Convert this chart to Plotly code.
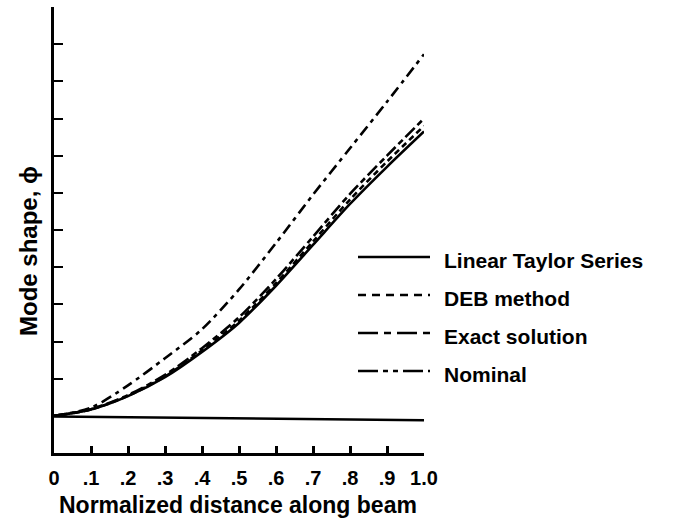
import plotly.graph_objects as go

# Normalized distance along the beam
x_pos = [0.0, 0.1, 0.2, 0.3, 0.4, 0.5, 0.6, 0.7, 0.8, 0.9, 1.0]

# Mode shape values for each method
linear_taylor = [0.0, 0.17, 0.53, 1.04, 1.72, 2.50, 3.50, 4.60, 5.70, 6.70, 7.65]
deb_method = [0.0, 0.17, 0.54, 1.06, 1.76, 2.56, 3.57, 4.69, 5.82, 6.84, 7.80]
exact_solution = [0.0, 0.18, 0.56, 1.10, 1.82, 2.65, 3.68, 4.82, 5.97, 7.00, 8.00]
nominal = [0.0, 0.22, 0.82, 1.55, 2.33, 3.40, 4.65, 5.95, 7.20, 8.45, 9.73]

# Undeformed beam reference line
baseline_x = [0.0, 1.0]
baseline_y = [-0.02, -0.12]

x_tick_vals = [0.0, 0.1, 0.2, 0.3, 0.4, 0.5, 0.6, 0.7, 0.8, 0.9, 1.0]
x_tick_text = ["0", ".1", ".2", ".3", ".4", ".5", ".6", ".7", ".8", ".9", "1.0"]
y_tick_vals = [1, 2, 3, 4, 5, 6, 7, 8, 9, 10, 11]

legend_names = ["Linear Taylor Series", "DEB method", "Exact solution", "Nominal"]

FONT = "Liberation Sans, Arial, Helvetica, sans-serif"
INK = "#000000"

curve_styles = [
    (linear_taylor, "solid"),
    (deb_method, "6px,4px"),
    (exact_solution, "13px,4px,6px,4px"),
    (nominal, "11px,5px,4px,5px"),
]
legend_dashes = ["solid", "8px,6px", "20px,6px,7px,6px", "20px,5px,5px,5px,5px,5px"]

fig = go.Figure()

fig.add_trace(go.Scatter(
    x=baseline_x, y=baseline_y, mode="lines", name="baseline",
    line=dict(color=INK, width=2.5), showlegend=False, hoverinfo="skip",
))

for name, (vals, dash) in zip(legend_names, curve_styles):
    fig.add_trace(go.Scatter(
        x=x_pos, y=vals, mode="lines", name=name,
        line=dict(color=INK, width=2.6, dash=dash, shape="spline", smoothing=0.8),
        showlegend=False,
    ))

# Plot frame in pixels, used to place the key and titles
plot_left, plot_right, plot_top, plot_bottom = 54, 424, 7, 453


def px_to_paper_x(px):
    return (px - plot_left) / (plot_right - plot_left)


def px_to_paper_y(py):
    return (plot_bottom - py) / (plot_bottom - plot_top)


# Key: line sample plus label for each method
row_y = [260, 298, 336, 374]
for name, dash, ry in zip(legend_names, legend_dashes, row_y):
    fig.add_shape(
        type="line", xref="paper", yref="paper",
        x0=px_to_paper_x(358), x1=px_to_paper_x(430),
        y0=px_to_paper_y(ry - 3), y1=px_to_paper_y(ry - 3),
        line=dict(color=INK, width=2.6, dash=dash),
    )
    fig.add_annotation(
        xref="paper", yref="paper",
        x=px_to_paper_x(442), y=px_to_paper_y(ry),
        text=name, showarrow=False, xanchor="left", yanchor="middle",
        font=dict(family=FONT, size=21, color=INK, weight="bold"),
    )

# Axis titles
fig.add_annotation(
    xref="paper", yref="paper",
    x=px_to_paper_x(238), y=px_to_paper_y(505),
    text="Normalized distance along beam", showarrow=False,
    xanchor="center", yanchor="middle",
    font=dict(family=FONT, size=23, color=INK, weight="bold"),
)
fig.add_annotation(
    xref="paper", yref="paper",
    x=px_to_paper_x(28), y=px_to_paper_y(251),
    text="Mode shape, ϕ", showarrow=False, textangle=-90,
    xanchor="center", yanchor="middle",
    font=dict(family=FONT, size=24, color=INK, weight="bold"),
)

fig.update_layout(
    width=684, height=520,
    margin=dict(l=plot_left, r=684 - plot_right, t=plot_top, b=520 - plot_bottom),
    paper_bgcolor="white", plot_bgcolor="white",
    font=dict(family=FONT, color=INK),
    showlegend=False,
)

fig.update_xaxes(
    range=[0, 1], showgrid=False, zeroline=False,
    showline=True, linecolor=INK, linewidth=3,
    ticks="inside", ticklen=7, tickwidth=2.5, tickcolor=INK,
    tickvals=x_tick_vals, ticktext=x_tick_text,
    ticklabelstandoff=5,
    tickfont=dict(family=FONT, size=20, color=INK, weight="bold"),
)

fig.update_yaxes(
    range=[-1, 11], showgrid=False, zeroline=False,
    showline=True, linecolor=INK, linewidth=3,
    ticks="inside", ticklen=9, tickwidth=2, tickcolor=INK,
    tickvals=y_tick_vals, showticklabels=False,
)

fig.write_html("out.html")
